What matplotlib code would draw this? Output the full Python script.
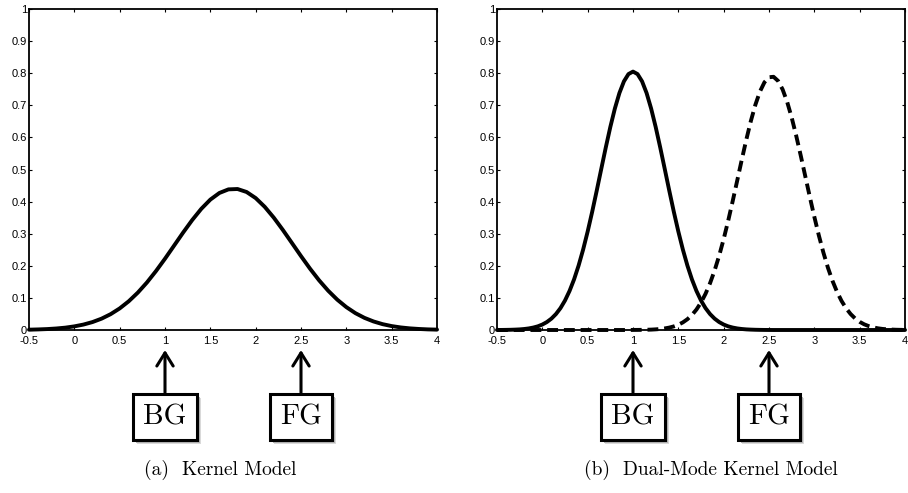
import matplotlib
matplotlib.use("Agg")
import matplotlib.pyplot as plt
from matplotlib.patches import Rectangle

# ---- data ----
x_left = [-0.5, -0.4, -0.3, -0.2, -0.1, 0.0, 0.1, 0.2, 0.3, 0.4,
          0.5, 0.6, 0.7, 0.8, 0.9, 1.0, 1.1, 1.2, 1.3, 1.4,
          1.5, 1.6, 1.7, 1.8, 1.9, 2.0, 2.1, 2.2, 2.3, 2.4,
          2.5, 2.6, 2.7, 2.8, 2.9, 3.0, 3.1, 3.2, 3.3, 3.4,
          3.5, 3.6, 3.7, 3.8, 3.9, 4.0]

kernel_model = [0.0010, 0.0018, 0.0029, 0.0047, 0.0073, 0.0113, 0.0169, 0.0247, 0.0353, 0.0493,
                0.0672, 0.0895, 0.1164, 0.1478, 0.1834, 0.2221, 0.2628, 0.3036, 0.3425, 0.3774,
                0.4062, 0.4269, 0.4381, 0.4392, 0.4299, 0.4110, 0.3837, 0.3499, 0.3116, 0.2710,
                0.2302, 0.1909, 0.1546, 0.1223, 0.0945, 0.0713, 0.0525, 0.0378, 0.0266, 0.0182,
                0.0122, 0.0080, 0.0051, 0.0032, 0.0019, 0.0012]

x_right = [-0.50, -0.45, -0.40, -0.35, -0.30, -0.25, -0.20, -0.15, -0.10, -0.05,
           0.00, 0.05, 0.10, 0.15, 0.20, 0.25, 0.30, 0.35, 0.40, 0.45,
           0.50, 0.55, 0.60, 0.65, 0.70, 0.75, 0.80, 0.85, 0.90, 0.95,
           1.00, 1.05, 1.10, 1.15, 1.20, 1.25, 1.30, 1.35, 1.40, 1.45,
           1.50, 1.55, 1.60, 1.65, 1.70, 1.75, 1.80, 1.85, 1.90, 1.95,
           2.00, 2.05, 2.10, 2.15, 2.20, 2.25, 2.30, 2.35, 2.40, 2.45,
           2.50, 2.55, 2.60, 2.65, 2.70, 2.75, 2.80, 2.85, 2.90, 2.95,
           3.00, 3.05, 3.10, 3.15, 3.20, 3.25, 3.30, 3.35, 3.40, 3.45,
           3.50, 3.55, 3.60, 3.65, 3.70, 3.75, 3.80, 3.85, 3.90, 3.95,
           4.00]

bg_mode = [0.0001, 0.0002, 0.0004, 0.0007, 0.0012, 0.0019, 0.0031, 0.0049, 0.0076, 0.0114,
           0.0170, 0.0248, 0.0354, 0.0496, 0.0681, 0.0919, 0.1216, 0.1577, 0.2008, 0.2506,
           0.3069, 0.3685, 0.4342, 0.5018, 0.5689, 0.6326, 0.6899, 0.7381, 0.7746, 0.7973,
           0.8050, 0.7973, 0.7746, 0.7381, 0.6899, 0.6326, 0.5689, 0.5018, 0.4342, 0.3685,
           0.3069, 0.2506, 0.2008, 0.1577, 0.1216, 0.0919, 0.0681, 0.0496, 0.0354, 0.0248,
           0.0170, 0.0114, 0.0076, 0.0049, 0.0031, 0.0019, 0.0012, 0.0007, 0.0004, 0.0002,
           0.0001, 0.0, 0.0, 0.0, 0.0, 0.0, 0.0, 0.0, 0.0, 0.0,
           0.0, 0.0, 0.0, 0.0, 0.0, 0.0, 0.0, 0.0, 0.0, 0.0,
           0.0, 0.0, 0.0, 0.0, 0.0, 0.0, 0.0, 0.0, 0.0, 0.0,
           0.0]

fg_mode = [0.0, 0.0, 0.0, 0.0, 0.0, 0.0, 0.0, 0.0, 0.0, 0.0,
           0.0, 0.0, 0.0, 0.0, 0.0, 0.0, 0.0, 0.0, 0.0, 0.0,
           0.0, 0.0, 0.0, 0.0, 0.0, 0.0, 0.0, 0.0, 0.0, 0.0001,
           0.0002, 0.0003, 0.0005, 0.0008, 0.0012, 0.0020, 0.0031, 0.0049, 0.0075, 0.0112,
           0.0164, 0.0237, 0.0336, 0.0467, 0.0638, 0.0856, 0.1128, 0.1459, 0.1854, 0.2312,
           0.2832, 0.3406, 0.4021, 0.4662, 0.5308, 0.5933, 0.6512, 0.7018, 0.7428, 0.7718,
           0.7874, 0.7888, 0.7760, 0.7495, 0.7109, 0.6620, 0.6053, 0.5435, 0.4792, 0.4148,
           0.3526, 0.2943, 0.2412, 0.1940, 0.1533, 0.1190, 0.0906, 0.0678, 0.0498, 0.0359,
           0.0254, 0.0177, 0.0121, 0.0081, 0.0053, 0.0034, 0.0022, 0.0014, 0.0008, 0.0005,
           0.0003]

x_ticks = [-0.5, 0, 0.5, 1, 1.5, 2, 2.5, 3, 3.5, 4]
x_tick_labels = ["-0.5", "0", "0.5", "1", "1.5", "2", "2.5", "3", "3.5", "4"]
y_ticks = [0, 0.1, 0.2, 0.3, 0.4, 0.5, 0.6, 0.7, 0.8, 0.9, 1]
y_tick_labels = ["0", "0.1", "0.2", "0.3", "0.4", "0.5", "0.6", "0.7", "0.8", "0.9", "1"]

marker_labels = ["BG", "FG"]
marker_x = [1, 2.5]
captions = ["(a)  Kernel Model", "(b)  Dual-Mode Kernel Model"]

# ---- figure ----
W, H = 908, 493
fig = plt.figure(figsize=(W / 100, H / 100), dpi=100)

def px_axes(left, top, right, bottom):
    return fig.add_axes([left / W, 1 - bottom / H, (right - left) / W, (bottom - top) / H])

ax1 = px_axes(29, 9, 437, 330)
ax2 = px_axes(497, 9, 905, 330)

tick_font = dict(family=["Liberation Sans", "DejaVu Sans"], size=8)

for ax in (ax1, ax2):
    ax.set_zorder(2)
    ax.set_xlim(-0.5, 4)
    ax.set_ylim(0, 1)
    ax.set_xticks(x_ticks)
    ax.set_xticklabels(x_tick_labels, **tick_font)
    ax.set_yticks(y_ticks)
    ax.set_yticklabels(y_tick_labels, **tick_font)
    ax.tick_params(direction="in", length=2.5, width=0.8, top=True, right=True,
                   colors="black")
    ax.tick_params(axis="x", pad=4.5)
    ax.tick_params(axis="y", pad=1.5)
    for s in ax.spines.values():
        s.set_linewidth(1.3)
        s.set_color("black")

ax1.plot(x_left, kernel_model, color="black", lw=2.8, solid_joinstyle="round",
         solid_capstyle="round", clip_on=False)
ax2.plot(x_right, bg_mode, color="black", lw=2.8, solid_joinstyle="round",
         solid_capstyle="round", clip_on=False)
ax2.plot(x_right, fg_mode, color="black", lw=2.8, linestyle=(0, (2.8, 1.5)),
         dash_capstyle="butt", clip_on=False)

# ---- BG / FG boxes with arrows ----
tip_y = (330 - 350) / 321.0
box_y = (330 - 417) / 321.0
anns = []
for ax in (ax1, ax2):
    for lab, xv in zip(marker_labels, marker_x):
        ann = ax.annotate(
            lab, xy=(xv, tip_y), xycoords=("data", "axes fraction"),
            xytext=(xv, box_y), textcoords=("data", "axes fraction"),
            ha="center", va="center", fontsize=21, family="cmr10",
            annotation_clip=False, zorder=3,
            bbox=dict(boxstyle="square,pad=0.35", fc="white", ec="black", lw=2.2),
            arrowprops=dict(arrowstyle="->,head_length=0.45,head_width=0.28",
                            lw=2.2, color="black", shrinkA=0, shrinkB=0),
        )
        anns.append(ann)

# soft drop shadows behind the boxes (figure-level, below the axes)
fig.canvas.draw()
renderer = fig.canvas.get_renderer()
for ann in anns:
    bb = ann.get_bbox_patch().get_window_extent(renderer)
    for off, shade in ((4, "0.85"), (3, "0.7")):
        fig.patches.append(Rectangle((bb.x0 + off, bb.y0 - off), bb.width, bb.height,
                                     transform=None, fc=shade, ec="none", zorder=1))

# ---- captions ----
fig.text(220 / W, 1 - 470 / H, captions[0], ha="center", va="center",
         fontsize=14, family="cmr10")
fig.text(711 / W, 1 - 470 / H, captions[1], ha="center", va="center",
         fontsize=14, family="cmr10")

fig.savefig("out.png", dpi=100)
